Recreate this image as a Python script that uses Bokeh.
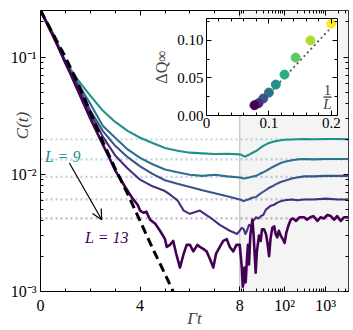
import numpy as np
from bokeh.plotting import figure
from bokeh.models import (Range1d, LinearAxis, LogAxis, FixedTicker, Span, BoxAnnotation,
                          Label, Arrow, OpenHead, CustomJSTransform, ColumnDataSource,
                          CustomJSTickFormatter)
from bokeh.transform import transform
from bokeh.embed import file_html
from bokeh.resources import INLINE

FONT = "Liberation Serif"

# ---------------- data ----------------
L_values = [9, 10, 11, 12, 13]
colors = {9: "#21918c", 10: "#2c718e", 11: "#3b528b", 12: "#472d7b", 13: "#440154"}

t_L9 = [0, 0.5, 1, 1.5, 2, 2.5, 3, 3.5, 4, 4.5, 5, 5.5, 6, 6.5, 7, 7.5, 8,
        9, 10, 11, 13, 16, 20, 25, 30, 40, 50, 60, 80, 100, 150, 200, 300, 500, 1000, 2000, 3600]
c_L9 = [0.25, 0.16, 0.092, 0.064, 0.047, 0.035, 0.028, 0.0235, 0.0205, 0.0185, 0.0168, 0.0159,
        0.0153, 0.0151, 0.0149, 0.0150, 0.0148,
        0.0146, 0.0143, 0.0142, 0.0146, 0.0152, 0.0158, 0.0167, 0.0175, 0.0184, 0.0189, 0.0192,
        0.0195, 0.0197, 0.0198, 0.0199, 0.0200, 0.0199, 0.0200, 0.0200, 0.0199]

t_L10 = [0, 0.5, 1, 1.5, 2, 2.5, 3, 3.5, 4, 4.5, 5, 5.5, 6, 6.5, 7, 7.5, 8,
         9, 10, 12, 15, 20, 25, 30, 40, 50, 60, 80, 100, 150, 200, 300, 500, 1000, 2000, 3600]
c_L10 = [0.25, 0.158, 0.09, 0.060, 0.040, 0.026, 0.0205, 0.0163, 0.0138, 0.0122, 0.0110, 0.0104,
         0.0099, 0.0097, 0.0099, 0.0096, 0.0094,
         0.0093, 0.0092, 0.0093, 0.0095, 0.0097, 0.0101, 0.0104, 0.0110, 0.0115, 0.0119, 0.0125,
         0.0128, 0.0132, 0.0134, 0.0135, 0.0134, 0.0135, 0.0135, 0.0135]

t_L11 = [0, 0.5, 1, 1.5, 2, 2.5, 3, 3.5, 4, 4.5, 5, 5.5, 6, 6.5, 7, 7.5, 8,
         9, 10, 11, 13, 16, 20, 25, 30, 40, 50, 60, 80, 100, 150, 200, 300, 500, 1000, 2000, 3600]
c_L11 = [0.25, 0.157, 0.089, 0.058, 0.035, 0.0235, 0.0175, 0.0140, 0.0117, 0.0101, 0.0089, 0.0083,
         0.0078, 0.0073, 0.0069, 0.0065, 0.0061,
         0.0060, 0.0059, 0.0060, 0.0061, 0.0063, 0.0064, 0.0068, 0.0071, 0.0076, 0.0079, 0.0082,
         0.0086, 0.0088, 0.0092, 0.0094, 0.0096, 0.0096, 0.0097, 0.0097, 0.0097]

t_L12 = [0, 0.5, 1, 1.5, 2, 2.5, 3, 3.5, 4, 4.5, 5, 5.25, 5.5, 5.75, 6, 6.4, 6.8, 7.2, 7.6, 7.9, 8,
         9, 10, 11, 12, 13.5, 15, 17, 20, 23, 26, 30, 35, 40, 46, 55, 65, 80, 100, 150, 200, 300,
         500, 1000, 2000, 3600]
c_L12 = [0.25, 0.156, 0.088, 0.056, 0.033, 0.021, 0.0145, 0.0112, 0.0090, 0.0079, 0.0072, 0.0066,
         0.0060, 0.0049, 0.0046, 0.0049, 0.0043, 0.0037, 0.0033, 0.0031, 0.0033,
         0.0035, 0.0034, 0.0031, 0.0033, 0.0037, 0.0036, 0.0040, 0.0043, 0.0042, 0.0044, 0.0045,
         0.0050, 0.0052, 0.0054, 0.0055, 0.0057, 0.0059, 0.0060, 0.0061, 0.0060, 0.0061,
         0.0061, 0.0062, 0.0061, 0.0061]

t_L13 = [0, 0.5, 1, 1.5, 2, 2.5, 2.8, 3, 3.4, 3.7, 3.9, 4.0, 4.13, 4.25, 4.4, 4.6, 4.8, 5.0, 5.07,
         5.2, 5.33, 5.45, 5.6, 5.75, 5.87, 6.0, 6.14, 6.3, 6.4, 6.55, 6.67, 6.8, 6.94, 7.05, 7.2,
         7.34, 7.48, 7.6, 7.74, 7.87, 8.0,
         8.5, 9, 9.5, 10, 10.5, 11.2, 12, 12.7, 13.5, 14.5, 15.5, 16.3, 17.5, 19.6, 21, 23.6, 26,
         28, 31.4, 35, 38, 41.7, 45, 50, 55.5, 60, 66, 72, 80, 90, 100, 110, 125, 140, 160, 190,
         230, 296, 350, 420, 500, 630, 750, 900, 1100, 1330, 1600, 1900, 2330, 2800, 3600]
c_L13 = [0.25, 0.152, 0.090, 0.052, 0.030, 0.018, 0.0133, 0.0108, 0.0078, 0.0062, 0.0055, 0.0049,
         0.0047, 0.0048, 0.0041, 0.0038, 0.0033, 0.0028, 0.0024,
         0.0025, 0.0027, 0.0021, 0.0016, 0.0021, 0.0025, 0.0025, 0.0022, 0.0025, 0.0024, 0.0023,
         0.0022, 0.0019, 0.0016, 0.0021, 0.0024, 0.0027, 0.0028, 0.0024, 0.0022, 0.0025, 0.0025,
         0.0020, 0.0016, 0.0011, 0.0012, 0.0016, 0.0012, 0.0019, 0.0025, 0.0017, 0.0030, 0.0036,
         0.0041, 0.0030, 0.00145, 0.0022, 0.0030, 0.0027, 0.0034, 0.0034, 0.0031, 0.0026, 0.0020,
         0.0028, 0.0035, 0.0036, 0.0031, 0.0029, 0.0033, 0.0030, 0.0028, 0.0026, 0.0032, 0.0037,
         0.0041, 0.0042, 0.0040, 0.0043, 0.0043, 0.0041, 0.0043, 0.0044, 0.0040, 0.0043, 0.0042,
         0.0045, 0.0044, 0.0041, 0.0044, 0.0040, 0.0043, 0.0043]

curves_t = {9: t_L9, 10: t_L10, 11: t_L11, 12: t_L12, 13: t_L13}
curves_c = {9: c_L9, 10: c_L10, 11: c_L11, 12: c_L12, 13: c_L13}

# asymptotic plateaus (dotted guides)
plateau = {9: 0.0199, 10: 0.0134, 11: 0.0095, 12: 0.0061, 13: 0.0042}

# reference exponential (dashed)
t_ref = [0, 0.5, 1, 1.5, 2, 2.5, 3, 3.5, 4, 4.5, 5, 5.5]
c_ref = [0.251, 0.158, 0.100, 0.060, 0.034, 0.019, 0.0112, 0.0068, 0.0040, 0.00234, 0.00141, 0.00083]

# inset data
L_inset = [5, 6, 7, 8, 9, 10, 11, 12, 13]
dQ_inset = [0.122, 0.0999, 0.077, 0.0544, 0.0411, 0.0305, 0.0225, 0.0163, 0.0137]
inset_colors = ["#fde725", "#addc30", "#5ec962", "#28ae80", "#21918c", "#2c718e", "#3b528b",
                "#472d7b", "#440154"]
fit_x = [0.09, 0.21]
fit_y = [0.020, 0.126]

# ---------------- axis mapping: linear up to 8, log beyond ----------------
BREAK = 8.0
K = 41.0 / 24.9          # width of a decade relative to one linear unit
T_MAX = 3600.0


def axis_pos(t):
    return t if t <= BREAK else BREAK + K * np.log10(t / BREAK)


to_axis = CustomJSTransform(
    args=dict(b=BREAK, k=K),
    func="return x <= b ? x : b + k*Math.log10(x/b);",
    v_func="const out = new Array(xs.length); for (let i = 0; i < xs.length; i++) { const t = xs[i]; out[i] = t <= b ? t : b + k*Math.log10(t/b); } return out;",
)

p = figure(width=353, height=330, output_backend="svg", toolbar_location=None,
           x_range=Range1d(0, axis_pos(T_MAX)), y_range=Range1d(1e-3, 0.25),
           y_axis_type="log", min_border_left=40, min_border_right=5,
           min_border_top=10, min_border_bottom=37)
p.grid.visible = False
p.outline_line_color = "black"
p.outline_line_width = 1
p.background_fill_color = "white"
p.border_fill_color = "white"

# ticks
x_major = [0, 4, 8, axis_pos(100), axis_pos(1000)]
x_minor = [1, 2, 3, 5, 6, 7] + [axis_pos(v) for v in
                                 [9, 10, 20, 30, 40, 50, 60, 70, 80, 90,
                                  200, 300, 400, 500, 600, 700, 800, 900, 2000, 3000]]
x_tick_labels = ["0", "4", "8", "10²", "10³"]
y_major = [1e-3, 1e-2, 1e-1]
y_minor = [m * d for d in [1e-3, 1e-2] for m in range(2, 10)] + [0.2]
y_tick_labels = ["10⁻³", "10⁻²", "10⁻¹"]

LABEL_CODE = """
let best = -1, dist = Infinity;
for (let i = 0; i < ticks_at.length; i++) {
  const d = Math.abs(Math.log(Math.abs(tick) + 1e-12) - Math.log(Math.abs(ticks_at[i]) + 1e-12));
  const e = Math.abs(tick - ticks_at[i]);
  const m = log ? d : e;
  if (m < dist) { dist = m; best = i; }
}
return (best >= 0 && dist < 1e-6) ? names[best] : "";
"""


def labeller(ticks, names, log=False):
    return CustomJSTickFormatter(args=dict(ticks_at=list(ticks), names=list(names), log=log),
                                 code=LABEL_CODE)


BLANK = CustomJSTickFormatter(code="return '';")


def style_axis(ax, blank=False):
    ax.axis_line_color = None
    ax.major_tick_in = 5
    ax.major_tick_out = 0
    ax.minor_tick_in = 3
    ax.minor_tick_out = 0
    ax.major_tick_line_color = "black"
    ax.minor_tick_line_color = "black"
    ax.major_label_text_font = FONT
    ax.major_label_text_color = "black"
    ax.major_label_text_font_size = "16px"
    if blank:                   # tick-only axis (mirrored ticks, no labels)
        ax.formatter = BLANK
        ax.major_label_standoff = 0
        ax.major_label_text_font_size = "1px"


xa = p.xaxis[0]
xa.ticker = FixedTicker(ticks=x_major, minor_ticks=x_minor)
style_axis(xa)
xa.formatter = labeller(x_major, x_tick_labels)
xa.major_label_standoff = 5
xa.axis_label = "Γt"
xa.axis_label_text_font = FONT
xa.axis_label_text_font_size = "17px"
xa.axis_label_text_font_style = "italic"
xa.axis_label_standoff = -8

ya = p.yaxis[0]
ya.ticker = FixedTicker(ticks=y_major, minor_ticks=y_minor)
style_axis(ya)
ya.formatter = labeller(y_major, y_tick_labels, log=True)
ya.major_label_standoff = 4

top = LinearAxis(ticker=FixedTicker(ticks=x_major, minor_ticks=x_minor))
style_axis(top, blank=True)
p.add_layout(top, "above")
right = LogAxis(ticker=FixedTicker(ticks=y_major, minor_ticks=y_minor))
style_axis(right, blank=True)
p.add_layout(right, "right")

# shaded log region and its border
p.add_layout(BoxAnnotation(left=BREAK, fill_color="#f4f4f4", fill_alpha=1.0,
                           line_color=None, level="underlay"))
p.add_layout(Span(location=BREAK, dimension="height", line_color="#c9c9c9",
                  line_width=1.3, level="underlay"))

# plateau guides
for L in L_values:
    p.add_layout(Span(location=plateau[L], dimension="width", line_color=colors[L],
                      line_alpha=0.3, line_dash="2 3", line_width=2.2, level="underlay"))

# curves
for L in L_values:
    src = ColumnDataSource(dict(t=curves_t[L], c=curves_c[L]))
    p.line(x=transform("t", to_axis), y="c", source=src, line_color=colors[L],
           line_width=2.6 if L == 13 else 2.1, line_join="round")

ref_src = ColumnDataSource(dict(t=t_ref, c=c_ref))
p.line(x=transform("t", to_axis), y="c", source=ref_src, line_color="black",
       line_width=3, line_dash="9 5")

# labels
p.add_layout(Label(x=0.18, y=0.0141, text="L = 9", text_font=FONT, text_font_size="16px",
                   text_font_style="italic", text_color=colors[9],
                   text_align="left", text_baseline="alphabetic"))
p.add_layout(Label(x=1.79, y=0.0029, text="L = 13", text_font=FONT, text_font_size="16px",
                   text_font_style="italic", text_color=colors[13],
                   text_align="left", text_baseline="alphabetic"))
p.add_layout(Arrow(x_start=1.16, y_start=0.0125, x_end=2.46, y_end=0.0041,
                   line_color="black", line_width=1.2,
                   end=OpenHead(size=10, line_color="black", line_width=1.2)))

# ---------------- y-axis title (small overlay beside the tick labels) ----------------
ylab = figure(width=24, height=46, output_backend="svg", toolbar_location=None,
              x_range=Range1d(0, 1), y_range=Range1d(0, 1), x_axis_type=None, y_axis_type=None,
              min_border=0, min_border_left=0, min_border_right=0, min_border_top=0,
              min_border_bottom=0)
ylab.outline_line_color = None
ylab.background_fill_color = None
ylab.border_fill_color = None
ylab.grid.visible = False
ylab.add_layout(Label(x=0.5, y=0.5, text="C(t)", angle=np.pi / 2, text_font=FONT,
                      text_font_size="17px", text_font_style="italic",
                      text_align="center", text_baseline="middle"))
ylab.styles = {"position": "absolute", "left": "10px", "top": "102px", "z-index": "1"}

# ---------------- inset ----------------
q = figure(width=197, height=123, output_backend="svg", toolbar_location=None,
           x_range=Range1d(0, 0.21), y_range=Range1d(0, 0.129),
           min_border_left=58, min_border_right=8, min_border_top=4, min_border_bottom=22)
q.grid.visible = False
q.outline_line_color = "black"
q.background_fill_color = "white"
q.border_fill_color = None

ix_major = [0, 0.1, 0.2]
ix_minor = [0.02, 0.04, 0.06, 0.08, 0.12, 0.14, 0.16, 0.18]
iy_major = [0, 0.05, 0.1]
iy_minor = [0.025, 0.075, 0.125]

qx = q.xaxis[0]
qx.ticker = FixedTicker(ticks=ix_major, minor_ticks=ix_minor)
style_axis(qx)
qx.formatter = labeller(ix_major, ["0", "0.1", "0.2"])
qx.major_label_text_font_size = "15px"
qx.major_label_standoff = 2

qy = q.yaxis[0]
qy.ticker = FixedTicker(ticks=iy_major, minor_ticks=iy_minor)
style_axis(qy)
qy.formatter = labeller(iy_major, ["0.00", "0.05", "0.10"])
qy.major_label_text_font_size = "15px"
qy.major_label_standoff = 3
qy.axis_label = "ΔQ∞"
qy.axis_label_text_font = FONT
qy.axis_label_text_font_size = "16px"
qy.axis_label_text_font_style = "normal"
qy.axis_label_standoff = 4

qtop = LinearAxis(ticker=FixedTicker(ticks=ix_major, minor_ticks=ix_minor))
style_axis(qtop, blank=True)
q.add_layout(qtop, "above")
qright = LinearAxis(ticker=FixedTicker(ticks=iy_major, minor_ticks=iy_minor))
style_axis(qright, blank=True)
q.add_layout(qright, "right")

q.line(fit_x, fit_y, line_color="#555555", line_width=1.8, line_dash="2 3")
inset_src = ColumnDataSource(dict(x=[1.0 / L for L in L_inset], y=dQ_inset, color=inset_colors))
q.scatter(x="x", y="y", color="color", size=9, source=inset_src)

q.add_layout(Label(x=0.194, y=0.0336, text="1", text_font=FONT, text_font_size="15px",
                   text_align="center", text_baseline="middle"))
q.segment(x0=[0.1875], y0=[0.0245], x1=[0.2005], y1=[0.0245], line_color="black", line_width=1)
q.add_layout(Label(x=0.194, y=0.0150, text="L", text_font=FONT, text_font_size="15px",
                   text_font_style="italic", text_align="center", text_baseline="middle"))

# inset placed over the main chart (page coordinates)
q.styles = {"position": "absolute", "left": "148px", "top": "14px", "z-index": "2"}

# separate roots so the figures' frames are not aligned with each other
open("out.html", "w").write(file_html([p, ylab, q], INLINE))
